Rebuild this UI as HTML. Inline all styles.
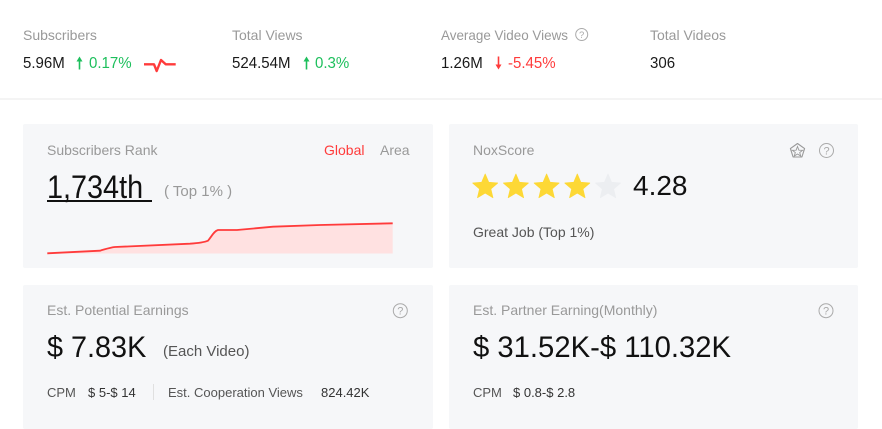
<!DOCTYPE html>
<html><head><meta charset="utf-8">
<style>
*{margin:0;padding:0;box-sizing:border-box}
html,body{width:882px;height:423px;overflow:hidden;background:#fff;font-family:"Liberation Sans",sans-serif}
.t{position:absolute;white-space:nowrap;line-height:1;transform-origin:0 0}
.lbl{font-size:14px;color:#999}
.val{font-size:16px;color:#1a1a1a;transform:scaleX(0.94)}
.card{position:absolute;background:#f6f7f9;border-radius:2px}
svg{position:absolute;overflow:visible}
</style></head><body>

<!-- Header -->
<div class="t lbl" style="left:23px;top:27.5px">Subscribers</div>
<div class="t lbl" style="left:232px;top:27.5px">Total Views</div>
<div class="t lbl" style="left:441px;top:27.5px;transform:scaleX(0.96)">Average Video Views</div>
<div class="t lbl" style="left:650px;top:27.5px">Total Videos</div>

<div class="t val" style="left:23px;top:55.5px">5.96M</div>
<div class="t val" style="left:89px;top:55.5px;color:#1dbf5c">0.17%</div>
<div class="t val" style="left:232px;top:55.5px">524.54M</div>
<div class="t val" style="left:315px;top:55.5px;color:#1dbf5c">0.3%</div>
<div class="t val" style="left:441px;top:55.5px">1.26M</div>
<div class="t val" style="left:508px;top:55.5px;color:#ff3b3b">-5.45%</div>
<div class="t val" style="left:650px;top:55.5px">306</div>

<svg width="882" height="423" style="left:0;top:0">
  <g stroke="#1dbf5c" stroke-width="1.6" fill="#1dbf5c">
    <line x1="79.5" y1="60" x2="79.5" y2="69.5"/>
    <polygon points="76.5,61.5 79.5,56.5 82.5,61.5" stroke="none"/>
    <line x1="306.5" y1="60" x2="306.5" y2="69.5"/>
    <polygon points="303.5,61.5 306.5,56.5 309.5,61.5" stroke="none"/>
  </g>
  <g stroke="#ff3b3b" stroke-width="1.6" fill="#ff3b3b">
    <line x1="498.5" y1="56.5" x2="498.5" y2="66"/>
    <polygon points="495.5,64.5 498.5,69.5 501.5,64.5" stroke="none"/>
  </g>
  <polyline points="144,64.3 154,64.3 156.7,71 161,60 165.7,64.3 175.7,64.3" fill="none" stroke="#ff3b3b" stroke-width="2.4" stroke-linejoin="round"/>
  <circle cx="581.7" cy="34.5" r="6" fill="none" stroke="#aaa" stroke-width="1"/>
  <text x="581.7" y="38" font-size="9.5" fill="#aaa" text-anchor="middle" font-family="Liberation Sans">?</text>
  <rect x="0" y="98.5" width="882" height="1" fill="#e8e8e8"/>
</svg>

<!-- Cards -->
<div class="card" style="left:23px;top:124px;width:410px;height:144px"></div>
<div class="card" style="left:449px;top:124px;width:409px;height:144px"></div>
<div class="card" style="left:23px;top:285px;width:410px;height:144px"></div>
<div class="card" style="left:449px;top:285px;width:409px;height:144px"></div>

<!-- Card 1 -->
<div class="t lbl" style="left:47px;top:142.5px">Subscribers Rank</div>
<div class="t" style="left:324px;top:142.5px;font-size:14px;color:#ff3b3b">Global</div>
<div class="t lbl" style="left:380px;top:142.5px">Area</div>
<div class="t" style="left:47px;top:171.2px;font-size:32px;color:#111;transform:scaleX(0.9)">1,734th</div>
<div style="position:absolute;left:47px;top:200px;width:105px;height:2px;background:#111"></div>
<div class="t" style="left:164px;top:184px;font-size:15px;color:#999">( Top 1% )</div>
<svg width="882" height="423" style="left:0;top:0">
  <path d="M47.3,253.3 L100,250.7 C106,249 110,247.5 115,247 L190,243.7 C200,243 205,242 208,240.7 C212,236 214,231 218,230 L237,230 L273,226.7 L320,225 L392.7,223.3 L392.7,253.5 L47.3,253.5 Z" fill="#ffe1e1"/>
  <path d="M47.3,253.3 L100,250.7 C106,249 110,247.5 115,247 L190,243.7 C200,243 205,242 208,240.7 C212,236 214,231 218,230 L237,230 L273,226.7 L320,225 L392.7,223.3" fill="none" stroke="#ff3b3b" stroke-width="1.8"/>
</svg>

<!-- Card 2 -->
<div class="t lbl" style="left:473px;top:142.5px">NoxScore</div>
<div class="t" style="left:633px;top:172px;font-size:28px;color:#111">4.28</div>
<div class="t" style="left:473px;top:224.8px;font-size:14px;color:#555">Great Job (Top 1%)</div>
<svg width="882" height="423" style="left:0;top:0">
  <defs>
    <polygon id="st" points="0,-13.1 3.5,-4.8 12.46,-4.05 5.6,1.8 7.7,10.6 0,5.9 -7.7,10.6 -5.6,1.8 -12.46,-4.05 -3.5,-4.8" stroke-linejoin="round"/>
  </defs>
  <use href="#st" x="485.2" y="187.1" fill="#fdd835" stroke="#fdd835" stroke-width="0.8"/>
  <use href="#st" x="515.9" y="187.1" fill="#fdd835" stroke="#fdd835" stroke-width="0.8"/>
  <use href="#st" x="546.6" y="187.1" fill="#fdd835" stroke="#fdd835" stroke-width="0.8"/>
  <use href="#st" x="577.3" y="187.1" fill="#fdd835" stroke="#fdd835" stroke-width="0.8"/>
  <use href="#st" x="608" y="187.1" fill="#eceef1" stroke="#eceef1" stroke-width="0.8"/>
  <polygon points="797.5,143.5 804.6,148.6 801.9,157 793.1,157 790.4,148.6" fill="none" stroke="#999" stroke-width="1.1" stroke-linejoin="round"/>
  <polygon points="797.5,146.5 798.9,150.2 802.6,150.3 799.7,152.5 800.7,156 797.5,154 794.3,156 795.3,152.5 792.4,150.3 796.1,150.2" fill="none" stroke="#999" stroke-width="0.9"/>
  <circle cx="826.5" cy="150.5" r="7" fill="none" stroke="#aaa" stroke-width="1"/>
  <text x="826.5" y="154.5" font-size="11" fill="#aaa" text-anchor="middle" font-family="Liberation Sans">?</text>
  <circle cx="400.3" cy="310.7" r="7" fill="none" stroke="#aaa" stroke-width="1"/>
  <text x="400.3" y="314.7" font-size="11" fill="#aaa" text-anchor="middle" font-family="Liberation Sans">?</text>
  <circle cx="826" cy="310.7" r="7" fill="none" stroke="#aaa" stroke-width="1"/>
  <text x="826" y="314.7" font-size="11" fill="#aaa" text-anchor="middle" font-family="Liberation Sans">?</text>
  <rect x="153" y="384" width="1" height="16" fill="#e0e0e0"/>
</svg>

<!-- Card 3 -->
<div class="t lbl" style="left:47px;top:303.2px">Est. Potential Earnings</div>
<div class="t" style="left:47px;top:332.9px;font-size:30px;color:#111;transform:scaleX(0.96)">$ 7.83K</div>
<div class="t" style="left:163px;top:344px;font-size:15px;color:#555">(Each Video)</div>
<div class="t" style="left:47px;top:385.7px;font-size:13px;color:#555">CPM</div>
<div class="t" style="left:88px;top:385.7px;font-size:13px;color:#333">$ 5-$ 14</div>
<div class="t" style="left:168px;top:385.7px;font-size:13px;color:#555">Est. Cooperation Views</div>
<div class="t" style="left:321px;top:385.7px;font-size:13px;color:#333">824.42K</div>

<!-- Card 4 -->
<div class="t lbl" style="left:473px;top:302.5px">Est. Partner Earning(Monthly)</div>
<div class="t" style="left:473px;top:332.9px;font-size:30px;color:#111;transform:scaleX(0.975)">$ 31.52K-$ 110.32K</div>
<div class="t" style="left:473px;top:385.7px;font-size:13px;color:#555">CPM</div>
<div class="t" style="left:513px;top:385.7px;font-size:13px;color:#333">$ 0.8-$ 2.8</div>

</body></html>
